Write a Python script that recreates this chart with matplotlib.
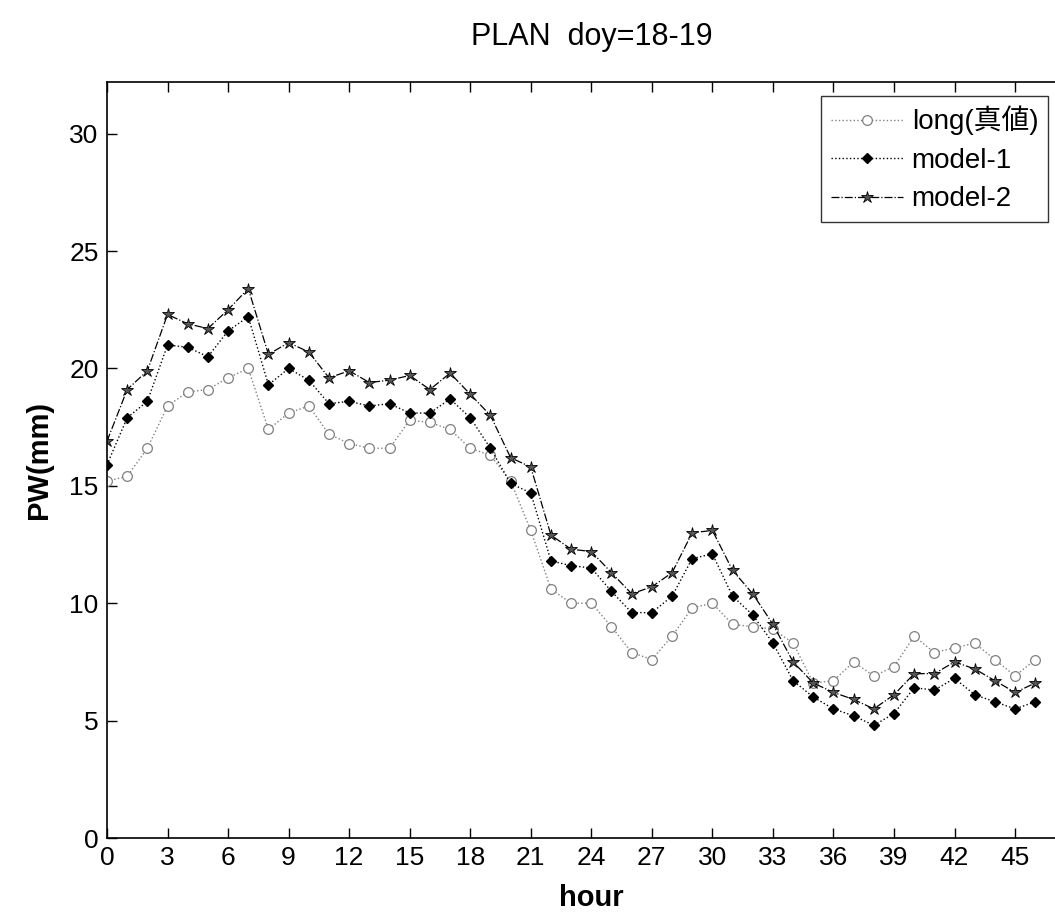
import matplotlib
matplotlib.use("Agg")
import matplotlib.pyplot as plt
import numpy as np

hours = list(range(47))
long_true = [15.2, 15.4, 16.6, 18.4, 19.0, 19.1, 19.6, 20.0, 17.4, 18.1,
             18.4, 17.2, 16.8, 16.6, 16.6, 17.8, 17.7, 17.4, 16.6, 16.3,
             15.2, 13.1, 10.6, 10.0, 10.0, 9.0, 7.9, 7.6, 8.6, 9.8,
             10.0, 9.1, 9.0, 8.9, 8.3, 6.6, 6.7, 7.5, 6.9, 7.3,
             8.6, 7.9, 8.1, 8.3, 7.6, 6.9, 7.6]
model_1 = [15.9, 17.9, 18.6, 21.0, 20.9, 20.5, 21.6, 22.2, 19.3, 20.0,
           19.5, 18.5, 18.6, 18.4, 18.5, 18.1, 18.1, 18.7, 17.9, 16.6,
           15.1, 14.7, 11.8, 11.6, 11.5, 10.5, 9.6, 9.6, 10.3, 11.9,
           12.1, 10.3, 9.5, 8.3, 6.7, 6.0, 5.5, 5.2, 4.8, 5.3,
           6.4, 6.3, 6.8, 6.1, 5.8, 5.5, 5.8]
model_2 = [16.9, 19.1, 19.9, 22.3, 21.9, 21.7, 22.5, 23.4, 20.6, 21.1,
           20.7, 19.6, 19.9, 19.4, 19.5, 19.7, 19.1, 19.8, 18.9, 18.0,
           16.2, 15.8, 12.9, 12.3, 12.2, 11.3, 10.4, 10.7, 11.3, 13.0,
           13.1, 11.4, 10.4, 9.1, 7.5, 6.6, 6.2, 5.9, 5.5, 6.1,
           7.0, 7.0, 7.5, 7.2, 6.7, 6.2, 6.6]
labels = ["long(真値)", "model-1", "model-2"]
xticks = list(range(0, 46, 3))
yticks = list(range(0, 31, 5))

fam = ["Liberation Sans", "Noto Sans CJK JP", "DejaVu Sans"]
plt.rcParams["font.family"] = fam

fig = plt.figure(figsize=(10.55, 9.18), dpi=100)
ax = fig.add_axes([107/1055, 1-838/918, 48*20.18/1055, (838-82)/918])

ax.plot(hours, long_true, linestyle=":", color="#808080", linewidth=1.0,
        marker="o", markersize=7, markerfacecolor="white", markeredgecolor="#808080",
        markeredgewidth=0.9, label=labels[0])
ax.plot(hours, model_1, linestyle=":", color="black", linewidth=1.0,
        marker="D", markersize=5.5, markerfacecolor="black", markeredgecolor="black",
        label=labels[1])
ax.plot(hours, model_2, linestyle="-.", color="black", linewidth=0.9,
        marker="*", markersize=9, markerfacecolor="#555555", markeredgecolor="black",
        markeredgewidth=0.6, label=labels[2])

ax.set_xlim(0, 48)
ax.set_ylim(0, 32.2)
ax.set_xticks(xticks)
ax.set_yticks(yticks)
ax.tick_params(direction="in", length=7, width=1, labelsize=19, top=True,
               right=False, pad=6)
ax.spines["right"].set_visible(False)
for s in ["left", "bottom", "top"]:
    ax.spines[s].set_linewidth(1.2)

ax.set_title("PLAN  doy=18-19", fontsize=22, pad=27)
ax.set_xlabel("hour", fontsize=21, fontweight="bold", labelpad=10)
ax.set_ylabel("PW(mm)", fontsize=21, fontweight="bold", labelpad=12)

leg = fig.legend(loc="upper right", bbox_to_anchor=(1048/1055, 1-96/918),
                 fontsize=20, frameon=True, fancybox=False, edgecolor="black",
                 handlelength=2.6, labelspacing=0.45, borderpad=0.35,
                 handletextpad=0.3, borderaxespad=0.0)
leg.get_frame().set_linewidth(1.0)

fig.savefig("out.png", dpi=100)
